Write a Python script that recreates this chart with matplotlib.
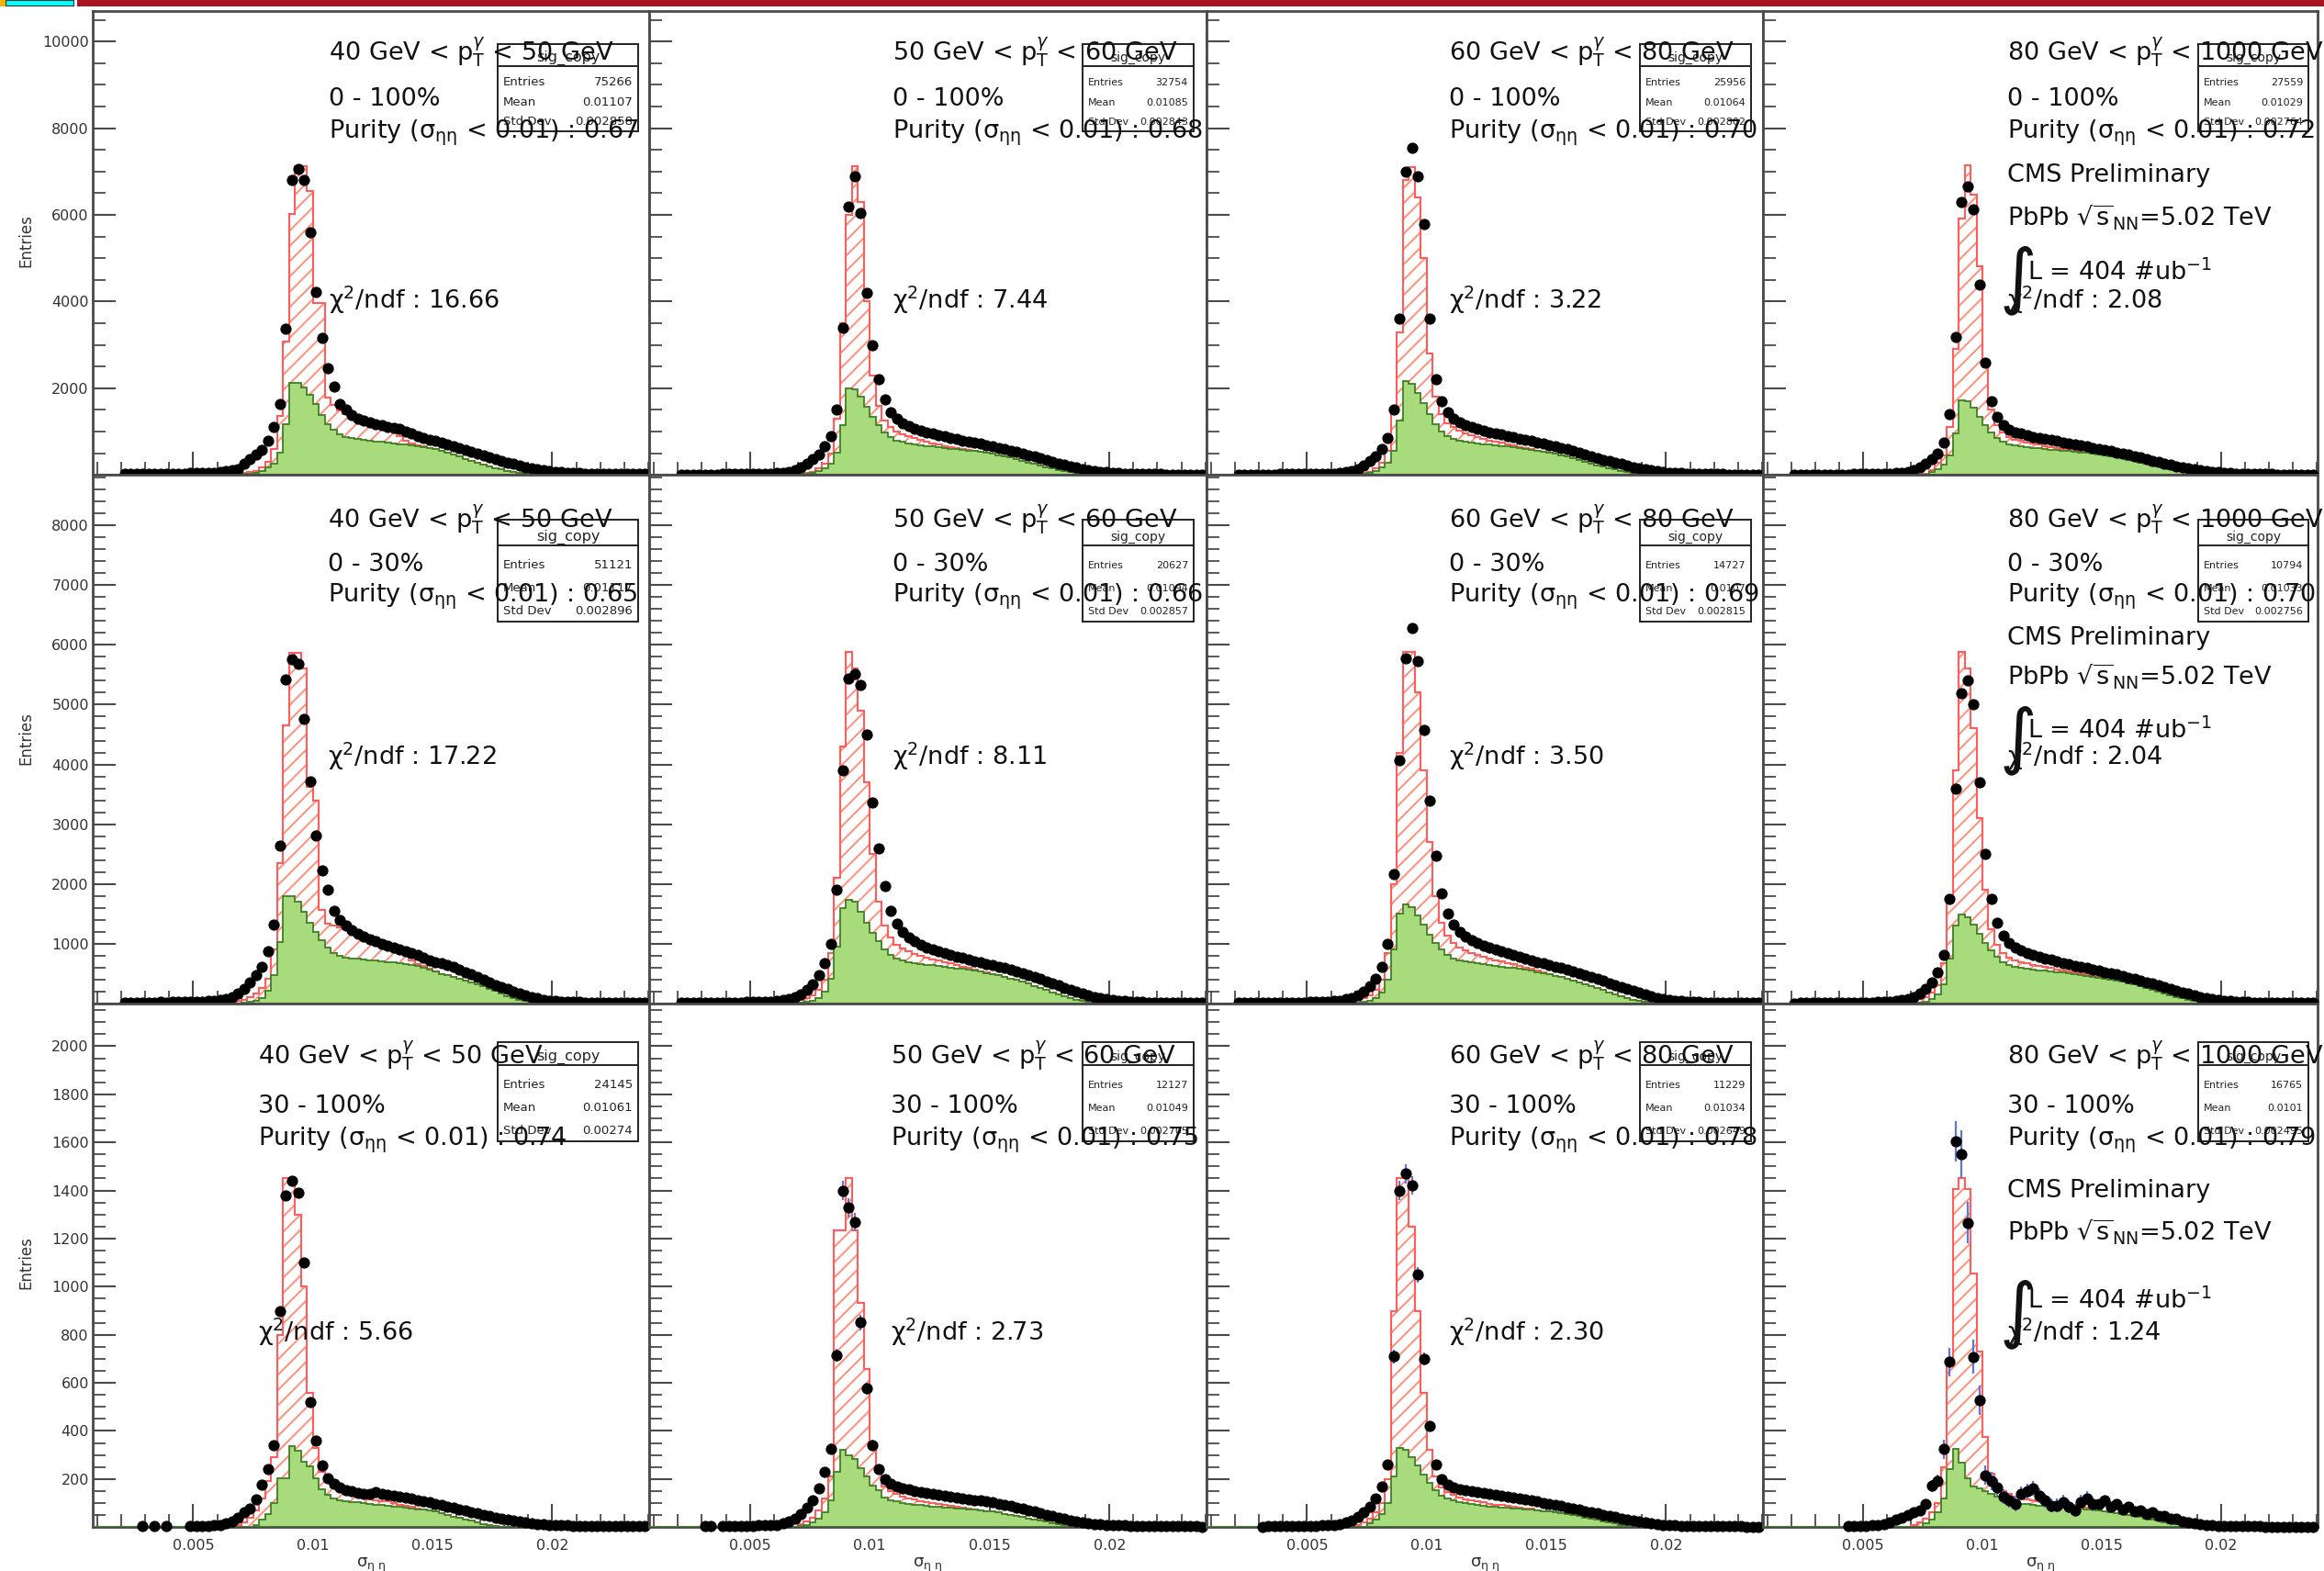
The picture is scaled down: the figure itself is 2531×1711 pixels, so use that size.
import numpy as np
import matplotlib
matplotlib.use("Agg")
import matplotlib.pyplot as plt
from matplotlib.patches import Rectangle
from matplotlib.lines import Line2D
from matplotlib.ticker import FixedLocator, MultipleLocator, NullFormatter

plt.rcParams['font.family'] = ['DejaVu Sans']
plt.rcParams['mathtext.fontset'] = 'dejavusans'
plt.rcParams['hatch.linewidth'] = 1.4
plt.rcParams['hatch.color'] = '#ff8f78'

W, H = 2531, 1711
fig = plt.figure(figsize=(W / 100, H / 100), dpi=100)

def fx(px):
    return px / W

def fy(py):
    return 1 - py / H

# ---------------- binning ----------------
edges = np.round(np.arange(0.001, 0.024001, 0.00025), 6)   # 92 bins of sigma_ietaieta
centers = 0.5 * (edges[:-1] + edges[1:])
NB = len(centers)

def pad(start, vals):
    out = [0] * start + list(vals)
    if len(out) > NB:
        raise ValueError('too many values')
    return out + [0] * (NB - len(out))

# ---------------- values (per panel) ----------------
# data = black points, bkg = green background template, sig = red hatched signal template (stacked on bkg)
data_r1c1 = pad(4, [20, 25, 22, 28, 25, 30, 28, 32, 30, 35, 38, 40, 42, 45, 50, 55,
                    70, 90, 110, 144, 250, 366, 470, 578, 790, 1108,
                    1648, 3375, 6800, 7060, 6800, 5589, 4227, 3153, 2472, 2040, 1648,
                    1500, 1390, 1298, 1250, 1210, 1170, 1140, 1110, 1090, 1076,
                    1010, 950, 900, 860, 820, 780, 740, 700, 660, 620,
                    578, 535, 495, 455, 415, 375, 330, 288, 250, 210,
                    175, 145, 125, 112, 90, 75, 62, 52, 45, 40,
                    38, 36, 32, 30, 28, 28, 26, 25, 24, 24, 22])
bkg_r1c1 = pad(21, [5, 10, 20, 20, 30, 45, 90, 170, 260,
                    515, 1178, 2131, 2131, 2025, 1850, 1638, 1390, 1178, 1038, 932,
                    880, 850, 830, 810, 790, 775, 760, 745, 730, 715,
                    700, 685, 670, 650, 625, 590, 550, 510, 470, 425,
                    375, 325, 275, 230, 190, 155, 125, 100, 75, 50, 30, 15, 5])
sig_r1c1 = pad(22, [5, 10, 30, 40, 55, 80, 130, 340,
                    845, 1902, 3882, 4994, 5100, 4703, 2339, 2587, 614, 582, 548,
                    520, 480, 440, 410, 390, 365, 340, 305, 270, 185, 100, 35, 10, 5])

data_r1c2 = pad(4, [10, 12, 12, 14, 14, 15, 16, 18, 18, 20, 22, 24, 26, 28, 31, 35,
                    40, 55, 75, 110, 170, 260, 360, 480, 660, 900,
                    1500, 3400, 6200, 6900, 6050, 4200, 3000, 2200, 1750, 1450, 1300,
                    1200, 1130, 1070, 1020, 980, 950, 920, 890, 860, 830,
                    800, 775, 750, 720, 690, 660, 630, 600, 565, 530,
                    495, 460, 420, 385, 345, 305, 270, 235, 200, 170,
                    140, 115, 95, 78, 62, 50, 42, 35, 30, 26,
                    24, 20, 18, 17, 15, 14, 13, 12, 12, 11, 10])
bkg_r1c2 = pad(24, [15, 25, 45, 90, 150, 260,
                    520, 1150, 2000, 1980, 1800, 1580, 1350, 1150, 980, 870, 800,
                    760, 730, 710, 690, 670, 655, 640, 625, 610, 595,
                    580, 565, 548, 530, 510, 485, 460, 430, 400, 365,
                    330, 290, 250, 215, 180, 150, 120, 95, 70, 48, 30, 15, 5])
sig_r1c2 = pad(24, [15, 20, 35, 60, 110, 240,
                    780, 2350, 4000, 5150, 4500, 2420, 950, 450, 270, 230, 200,
                    180, 160, 140, 120, 100, 80, 60, 45, 30, 18, 10, 5])

data_r1c3 = pad(4, [10, 11, 12, 13, 14, 15, 16, 17, 18, 19, 20, 22, 24, 26, 28, 31,
                    35, 45, 60, 90, 140, 220, 320, 430, 600, 850,
                    1500, 3600, 7000, 7540, 6900, 5800, 3600, 2200, 1700, 1450, 1300,
                    1220, 1160, 1110, 1060, 1020, 990, 960, 930, 900, 870,
                    840, 810, 780, 750, 720, 690, 660, 625, 590, 555,
                    515, 475, 435, 395, 355, 320, 285, 250, 215, 180,
                    150, 125, 105, 85, 70, 58, 48, 40, 34, 30,
                    27, 24, 21, 19, 17, 16, 15, 14, 13, 12, 12])
bkg_r1c3 = pad(24, [15, 25, 45, 90, 170, 290,
                    560, 1250, 2170, 2100, 1900, 1650, 1400, 1180, 1000, 900, 840,
                    800, 775, 755, 735, 715, 700, 685, 670, 655, 640,
                    625, 605, 585, 565, 540, 515, 485, 455, 420, 385,
                    345, 305, 265, 225, 190, 155, 125, 100, 75, 50, 30, 15, 5])
sig_r1c3 = pad(24, [10, 20, 35, 60, 120, 260,
                    840, 2050, 4630, 5000, 4500, 3350, 1400, 620, 400, 300, 260,
                    220, 185, 155, 135, 115, 100, 85, 70, 55, 40, 25, 15, 10])

data_r1c4 = pad(4, [8, 10, 10, 11, 12, 12, 13, 14, 15, 16, 17, 19, 21, 23, 26, 28,
                    30, 40, 55, 80, 120, 180, 260, 360, 500, 750,
                    1400, 3191, 6299, 6665, 6123, 4392, 2600, 1700, 1350, 1150, 1050,
                    990, 950, 910, 880, 855, 830, 805, 780, 755, 730,
                    705, 680, 655, 630, 605, 580, 555, 525, 495, 465,
                    435, 400, 365, 330, 295, 265, 235, 205, 178, 152,
                    128, 108, 90, 75, 62, 52, 44, 37, 32, 28,
                    25, 22, 20, 18, 16, 15, 14, 13, 12, 12, 11])
bkg_r1c4 = pad(27, [70, 130, 230,
                    450, 950, 1720, 1700, 1550, 1350, 1150, 980, 850, 760, 710,
                    680, 660, 645, 630, 615, 600, 588, 575, 562, 548,
                    535, 520, 505, 488, 470, 450, 428, 405, 380, 352,
                    322, 290, 258, 225, 193, 162, 133, 106, 82, 60, 40, 24, 12, 4])
sig_r1c4 = pad(24, [10, 15, 25, 50, 150, 220,
                    650, 1950, 4197, 5446, 4925, 3466, 1350, 520, 300, 220, 170,
                    140, 120, 105, 90, 80, 70, 60, 50, 38, 30, 20, 10, 5])

data_r2c1 = pad(4, [15, 18, 20, 18, 22, 20, 25, 22, 25, 28, 30, 32, 35, 38, 42, 48,
                    60, 80, 115, 170, 250, 355, 470, 617, 882, 1325,
                    2637, 5428, 5757, 5680, 4755, 3720, 2812, 2225, 1900, 1550, 1400,
                    1300, 1230, 1170, 1117, 1080, 1040, 1000, 970, 940, 910,
                    882, 850, 810, 763, 730, 700, 672, 648, 610, 570,
                    530, 490, 445, 400, 355, 315, 275, 240, 205, 170,
                    135, 105, 86, 68, 54, 44, 37, 32, 28, 25,
                    23, 21, 19, 18, 17, 16, 15, 14, 13, 13, 12])
bkg_r2c1 = pad(24, [15, 25, 40, 100, 220, 480,
                    1032, 1794, 1794, 1710, 1530, 1355, 1205, 1062, 940, 852, 800,
                    770, 760, 750, 740, 730, 720, 712, 700, 690, 675,
                    660, 645, 625, 600, 570, 535, 500, 470, 440, 410,
                    380, 350, 320, 290, 250, 210, 165, 120, 90, 65, 40, 20, 8])
sig_r2c1 = pad(22, [30, 45, 55, 85, 130, 160, 200, 420,
                    1324, 2856, 4076, 4160, 4073, 2265, 2195, 508, 402, 448, 470,
                    470, 450, 420, 380, 350, 320, 288, 260, 230, 195,
                    140, 75, 35, 25, 10, 5])

data_r2c2 = pad(4, [12, 14, 15, 15, 17, 16, 18, 20, 20, 22, 24, 26, 28, 30, 34, 38,
                    45, 60, 80, 110, 160, 230, 330, 470, 680, 1000,
                    1900, 3900, 5430, 5510, 5330, 4500, 3370, 2600, 1960, 1550, 1330,
                    1200, 1110, 1040, 980, 940, 905, 875, 845, 815, 790,
                    765, 740, 715, 690, 668, 645, 620, 595, 568, 540,
                    510, 478, 445, 410, 375, 340, 305, 270, 235, 200,
                    168, 140, 115, 92, 74, 60, 48, 40, 34, 30,
                    26, 23, 21, 19, 17, 16, 15, 14, 13, 12, 12])
bkg_r2c2 = pad(24, [15, 25, 45, 95, 200, 420,
                    950, 1600, 1740, 1700, 1540, 1360, 1190, 1040, 910, 820, 760,
                    725, 700, 682, 666, 652, 640, 628, 616, 604, 592,
                    579, 565, 550, 533, 514, 494, 472, 448, 422, 394,
                    364, 332, 298, 263, 228, 193, 160, 128, 98, 70, 46, 26, 12, 4])
sig_r2c2 = pad(22, [25, 40, 45, 65, 95, 135, 200, 430,
                    1150, 2700, 4140, 3900, 3360, 2340, 1310, 660, 390, 280, 230,
                    195, 170, 148, 134, 118, 105, 92, 79, 66, 53,
                    41, 30, 20, 10, 5])

data_r2c3 = pad(4, [10, 12, 12, 14, 14, 15, 16, 17, 18, 20, 22, 24, 26, 28, 31, 35,
                    42, 55, 75, 100, 140, 200, 290, 420, 620, 1000,
                    2160, 4070, 5780, 6280, 5730, 4570, 3400, 2480, 1840, 1500, 1320,
                    1200, 1120, 1060, 1010, 970, 935, 900, 870, 840, 810,
                    780, 752, 725, 698, 672, 648, 622, 596, 568, 540,
                    510, 478, 445, 412, 378, 345, 312, 278, 245, 212,
                    180, 150, 123, 100, 80, 64, 52, 43, 36, 31,
                    27, 24, 21, 19, 17, 16, 15, 14, 13, 12, 12])
bkg_r2c3 = pad(24, [15, 25, 45, 95, 190, 400,
                    900, 1500, 1660, 1620, 1480, 1320, 1160, 1020, 900, 815, 760,
                    728, 705, 688, 672, 658, 645, 632, 620, 607, 594,
                    580, 565, 549, 531, 512, 491, 469, 445, 419, 391,
                    361, 329, 295, 260, 225, 190, 157, 126, 96, 69, 45, 25, 11, 3])
sig_r2c3 = pad(22, [25, 40, 45, 65, 95, 135, 210, 450,
                    1100, 2700, 4220, 4260, 3720, 2580, 1540, 780, 450, 315, 250,
                    212, 185, 162, 143, 127, 112, 98, 85, 73, 61,
                    50, 40, 31, 20, 10, 4])

data_r2c4 = pad(4, [8, 10, 10, 11, 12, 12, 13, 14, 15, 16, 17, 19, 21, 23, 26, 30,
                    36, 46, 60, 82, 115, 165, 240, 350, 520, 820,
                    1750, 3600, 5190, 5400, 5000, 3700, 2500, 1750, 1350, 1130, 1010,
                    940, 890, 850, 815, 785, 758, 732, 707, 683, 660,
                    637, 615, 593, 572, 551, 530, 508, 486, 463, 439,
                    414, 388, 361, 333, 304, 275, 246, 218, 190, 163,
                    138, 115, 95, 78, 63, 51, 42, 35, 30, 26,
                    23, 20, 18, 16, 15, 14, 13, 12, 11, 11, 10])
bkg_r2c4 = pad(24, [12, 20, 36, 75, 150, 320,
                    750, 1300, 1490, 1450, 1320, 1170, 1020, 890, 780, 700, 650,
                    620, 600, 585, 572, 560, 549, 538, 527, 516, 505,
                    493, 481, 468, 454, 439, 423, 406, 387, 367, 345,
                    321, 295, 267, 237, 206, 175, 145, 116, 89, 64, 42, 24, 11, 3])
sig_r2c4 = pad(22, [20, 32, 36, 52, 74, 105, 160, 360,
                    950, 2600, 4390, 4150, 3280, 1930, 880, 360, 200, 150, 125,
                    110, 98, 87, 78, 70, 62, 55, 48, 41, 35,
                    30, 25, 20, 12, 6])

data_r3c1 = pad(7, [3, 0, 3, 0, 3, 0, 0, 0, 4, 5, 5, 6, 8,
                    10, 15, 25, 39, 60, 77, 115, 175, 241, 340,
                    900, 1380, 1440, 1390, 1100, 520, 360, 255, 203, 180, 165,
                    155, 148, 142, 140, 139, 146, 137, 133, 130, 127,
                    123, 118, 113, 108, 103, 98, 92, 86, 80, 75,
                    69, 63, 57, 51, 45, 40, 35, 30, 26, 22,
                    18, 15, 13, 12, 10, 9, 8, 7, 6, 6,
                    5, 5, 5, 4, 4, 4, 4, 3, 3, 3, 3])
bkg_r3c1 = pad(26, [10, 30, 55, 100,
                    203, 203, 337, 318, 273, 254, 203, 158, 134, 120, 112,
                    108, 104, 102, 100, 97, 94, 91, 89, 86, 84,
                    81, 78, 75, 72, 70, 64, 57, 50, 44, 38,
                    32, 26, 20, 14, 9, 5, 2])
sig_r3c1 = pad(22, [5, 8, 20, 40, 60, 90, 135, 190,
                    597, 1249, 1115, 982, 727, 306, 127, 72, 56, 45, 38,
                    32, 29, 25, 22, 20, 19, 18, 18, 15, 10,
                    8, 6, 4, 3])

data_r3c2 = pad(8, [3, 3, 0, 4, 3, 4, 5, 5, 6, 7, 8, 9,
                    10, 15, 22, 35, 55, 80, 110, 160, 230, 327,
                    715, 1400, 1328, 1270, 851, 576, 342, 240, 200, 180, 170,
                    162, 156, 150, 146, 142, 138, 135, 131, 127, 124,
                    120, 117, 113, 110, 106, 102, 97, 92, 87, 82,
                    76, 70, 64, 58, 52, 46, 40, 34, 29, 24,
                    20, 17, 14, 12, 10, 9, 8, 7, 6, 6,
                    5, 5, 4, 4, 4, 3, 3, 3, 3, 3, 2])
bkg_r3c2 = pad(24, [5, 10, 18, 35, 60, 110,
                    230, 320, 300, 283, 247, 211, 174, 152, 123, 113, 106,
                    101, 97, 94, 91, 88, 86, 84, 82, 80, 78,
                    76, 74, 72, 70, 67, 64, 60, 56, 52, 47,
                    42, 37, 32, 27, 22, 17, 12, 8, 5, 2])
sig_r3c2 = pad(24, [7, 12, 20, 35, 60, 100,
                    1004, 914, 1153, 951, 687, 447, 168, 78, 47, 37, 32,
                    27, 23, 20, 17, 15, 13, 11, 9, 7, 5, 4, 3, 2])
err_r3c2 = pad(28, [15, 20, 28, 40, 40, 38, 32, 26, 20, 16])

data_r3c3 = pad(8, [2, 3, 3, 3, 4, 4, 5, 5, 6, 6, 7, 7,
                    8, 12, 18, 28, 42, 60, 85, 120, 170, 260,
                    710, 1400, 1470, 1420, 1050, 700, 420, 260, 200, 175, 165,
                    158, 153, 150, 146, 142, 138, 134, 130, 126, 122,
                    118, 114, 110, 106, 101, 97, 92, 87, 82, 77,
                    72, 67, 62, 57, 52, 47, 42, 37, 32, 27,
                    22, 18, 15, 12, 10, 8, 7, 6, 5, 5,
                    4, 4, 4, 3, 3, 3, 3, 3, 2, 2, 2])
bkg_r3c3 = pad(26, [15, 30, 55, 100,
                    210, 330, 320, 290, 255, 220, 185, 155, 130, 118, 110,
                    104, 99, 95, 92, 89, 86, 84, 82, 80, 78,
                    76, 74, 72, 70, 67, 64, 61, 57, 53, 49,
                    45, 40, 35, 30, 25, 20, 15, 10, 6, 3])
sig_r3c3 = pad(24, [10, 20, 20, 30, 45, 100,
                    690, 1122, 1132, 960, 645, 340, 135, 55, 35, 27, 23,
                    20, 18, 16, 14, 13, 12, 10, 9, 8, 7, 6, 5, 4])
err_r3c3 = pad(28, [14, 18, 28, 40, 40, 38, 32, 26, 20, 16])

data_r3c4 = pad(13, [3, 4, 5, 6, 8, 10, 12,
                     18, 31, 40, 52, 63, 70, 95, 171, 192, 324,
                     687, 1604, 1550, 1266, 709, 528, 216, 190, 165, 127, 110,
                     95, 140, 150, 160, 130, 110, 90, 90, 105, 85,
                     70, 105, 120, 95, 95, 110, 85, 95, 75, 85,
                     65, 70, 55, 60, 45, 45, 35, 35, 25, 20,
                     15, 12, 10, 8, 6, 5, 5, 4, 4, 3,
                     3, 3, 2, 2, 2, 2, 2, 2, 2, 2, 2])
bkg_r3c4 = pad(26, [15, 30, 60, 120,
                    241, 324, 267, 203, 170, 160, 150, 140, 125, 115, 108,
                    102, 98, 95, 92, 90, 88, 86, 84, 82, 80,
                    78, 76, 74, 72, 69, 66, 63, 59, 55, 51,
                    46, 41, 36, 31, 26, 21, 16, 11, 7, 3])
sig_r3c4 = pad(24, [10, 20, 20, 30, 41, 130,
                    459, 1082, 1184, 1203, 886, 571, 225, 82, 50, 35, 30,
                    26, 23, 20, 18, 16, 14, 13, 12, 11, 10, 9, 8, 7])
err_r3c4 = pad(27, [25, 28, 40, 60, 85, 100, 85, 70, 60, 40, 38, 35, 32, 30,
                    30, 30, 30, 30, 30, 30, 28, 28, 28, 28, 28, 28, 28, 28])

panels = {
    (0, 0): (data_r1c1, bkg_r1c1, sig_r1c1, None),
    (0, 1): (data_r1c2, bkg_r1c2, sig_r1c2, None),
    (0, 2): (data_r1c3, bkg_r1c3, sig_r1c3, None),
    (0, 3): (data_r1c4, bkg_r1c4, sig_r1c4, None),
    (1, 0): (data_r2c1, bkg_r2c1, sig_r2c1, None),
    (1, 1): (data_r2c2, bkg_r2c2, sig_r2c2, None),
    (1, 2): (data_r2c3, bkg_r2c3, sig_r2c3, None),
    (1, 3): (data_r2c4, bkg_r2c4, sig_r2c4, None),
    (2, 0): (data_r3c1, bkg_r3c1, sig_r3c1, None),
    (2, 1): (data_r3c2, bkg_r3c2, sig_r3c2, err_r3c2),
    (2, 2): (data_r3c3, bkg_r3c3, sig_r3c3, err_r3c3),
    (2, 3): (data_r3c4, bkg_r3c4, sig_r3c4, err_r3c4),
}

ptbins = [('40', '50'), ('50', '60'), ('60', '80'), ('80', '1000')]
cent = ['0 - 100%', '0 - 30%', '30 - 100%']
purity = [['0.67', '0.68', '0.70', '0.72'], ['0.65', '0.66', '0.69', '0.70'], ['0.74', '0.75', '0.78', '0.79']]
chi2 = [['16.66', '7.44', '3.22', '2.08'], ['17.22', '8.11', '3.50', '2.04'], ['5.66', '2.73', '2.30', '1.24']]
entries = [['75266', '32754', '25956', '27559'], ['51121', '20627', '14727', '10794'], ['24145', '12127', '11229', '16765']]
means = [['0.01107', '0.01085', '0.01064', '0.01029'], ['0.01117', '0.01094', '0.0107', '0.01033'],
         ['0.01061', '0.01049', '0.01034', '0.0101']]
stds = [['0.002858', '0.002843', '0.002802', '0.002764'], ['0.002896', '0.002857', '0.002815', '0.002756'],
        ['0.00274', '0.002705', '0.002649', '0.002495']]

ytick_major = [[2000, 4000, 6000, 8000, 10000], [1000, 2000, 3000, 4000, 5000, 6000, 7000, 8000],
               [200, 400, 600, 800, 1000, 1200, 1400, 1600, 1800, 2000]]
ytick_minor = [500, 200, 50]
ymax = [10705, 8840, 2177]
xticks = [0.005, 0.01, 0.015, 0.02]
xtick_labels = ['0.005', '0.01', '0.015', '0.02']

# ---------------- layout (pixels) ----------------
col_left = [101, 707, 1314, 1920]
col_right = [707, 1314, 1920, 2524]
row_top = [12, 517.3, 1093.1]
row_bot = [517.3, 1093.1, 1663.2]
XMIN, XMAX = 0.0008, 0.02405

GREEN_FILL = '#a8db7c'
GREEN_EDGE = '#3f7f25'
RED_EDGE = '#ff5c5c'
HATCH_COL = '#ff8f78'
ERR_COL = '#5a78d8'
AXCOL = '#4a4a4a'

text_x = [[358, 972, 1578, 2186], [357, 972, 1578, 2186], [281, 970, 1578, 2186]]
base_y = [dict(l1=66.5, l2=115, l3=150.5, cms=198, pbpb=246.7, lum=305, chi=336, integ=326),
          dict(l1=574.6, l2=621.7, l3=655, cms=702, pbpb=747, lum=804, chi=833, integ=827),
          dict(l1=1159, l2=1212, l3=1248, cms=1304, pbpb=1351, lum=1425, chi=1460, integ=1452)]
box_y = [(48, 72, 143), (566, 594, 677), (1135, 1160, 1243)]
box_x = [(542, 695), (1179, 1300), (1786, 1907), (2394, 2514)]
FS = 19.5

for r in range(3):
    for c in range(4):
        l, rr = col_left[c], col_right[c]
        t, b = row_top[r], row_bot[r]
        ax = fig.add_axes([fx(l), fy(b), (rr - l) / W, (b - t) / H])
        d_list, b_list, s_list, e_list = panels[(r, c)]
        dat = np.array(d_list, float)
        bkg = np.array(b_list, float)
        sig = np.array(s_list, float)
        tot = bkg + sig
        ax.stairs(tot, edges, baseline=0, fill=True, facecolor='none', edgecolor=HATCH_COL,
                  hatch='//', linewidth=0, zorder=1)
        ax.stairs(tot, edges, baseline=0, fill=False, color=RED_EDGE, linewidth=1.5, zorder=2)
        ax.stairs(bkg, edges, baseline=0, fill=True, facecolor=GREEN_FILL, edgecolor=GREEN_EDGE,
                  linewidth=1.3, zorder=3)
        ax.axhline(0, color=GREEN_EDGE, lw=1.5, zorder=3)
        m = dat > 0
        if e_list is not None:
            err = np.array(e_list, float)
            me = m & (err > 0)
            ax.errorbar(centers[me], dat[me], yerr=err[me], fmt='none', ecolor=ERR_COL,
                        elinewidth=1.6, capsize=0, zorder=4)
        ax.plot(centers[m], dat[m], 'o', color='black', ms=7.8, zorder=5, clip_on=False)

        ax.set_xlim(XMIN, XMAX)
        ax.set_ylim(0, ymax[r])
        ax.yaxis.set_major_locator(FixedLocator(ytick_major[r]))
        ax.yaxis.set_minor_locator(MultipleLocator(ytick_minor[r]))
        ax.xaxis.set_major_locator(FixedLocator(xticks))
        ax.xaxis.set_minor_locator(MultipleLocator(0.001))
        ax.tick_params(which='both', direction='in', colors=AXCOL, top=False, right=False)
        ax.tick_params(which='major', length=18, width=1.5)
        ax.tick_params(which='minor', length=10, width=1.3)
        ax.tick_params(axis='y', labelsize=11.5, pad=3, labelcolor='#333333')
        ax.tick_params(axis='x', labelsize=11.5, pad=9, labelcolor='#333333')
        if c == 0:
            ax.set_yticklabels([str(v) for v in ytick_major[r]])
        else:
            ax.yaxis.set_major_formatter(NullFormatter())
        if r == 2:
            ax.set_xticklabels(xtick_labels)
        else:
            ax.xaxis.set_major_formatter(NullFormatter())
        for sp in ax.spines.values():
            sp.set_color(AXCOL)
            sp.set_linewidth(2)

        # stats box
        bx0, bx1 = box_x[c]
        by0, bsep, by1 = box_y[r]
        fig.add_artist(Rectangle((fx(bx0), fy(by1)), (bx1 - bx0) / W, (by1 - by0) / H,
                                 transform=fig.transFigure, facecolor='white', edgecolor='#222222',
                                 lw=1.4, zorder=6))
        fig.add_artist(Line2D([fx(bx0), fx(bx1)], [fy(bsep), fy(bsep)], transform=fig.transFigure,
                              color='#222222', lw=1.4, zorder=6))
        sfs = 9.5 if c == 0 else 8.0
        fig.text(fx((bx0 + bx1) / 2), fy(bsep - 5), 'sig_copy', ha='center', va='baseline',
                 fontsize=sfs + 2, color='#222222', zorder=7)
        h = by1 - bsep
        for i, (lab, val) in enumerate([('Entries', entries[r][c]), ('Mean', means[r][c]),
                                        ('Std Dev', stds[r][c])]):
            yy = bsep + h * (0.3 + 0.3 * i)
            fig.text(fx(bx0 + 6), fy(yy), lab, ha='left', va='baseline', fontsize=sfs,
                     color='#222222', zorder=7)
            fig.text(fx(bx1 - 6), fy(yy), val, ha='right', va='baseline', fontsize=sfs,
                     color='#222222', zorder=7)

        # panel text
        tx = text_x[r][c]
        by = base_y[r]
        lo, hi = ptbins[c]
        fig.text(fx(tx), fy(by['l1']), lo + r' GeV < p$_{\mathregular{T}}^{\gamma}$ < ' + hi + ' GeV',
                 fontsize=FS, va='baseline', color='#111111', zorder=8)
        fig.text(fx(tx), fy(by['l2']), cent[r], fontsize=FS, va='baseline', color='#111111', zorder=8)
        fig.text(fx(tx), fy(by['l3']),
                 r'Purity ($\mathregular{\sigma_{\eta\eta}}$ < 0.01) : ' + purity[r][c],
                 fontsize=FS, va='baseline', color='#111111', zorder=8)
        fig.text(fx(tx), fy(by['chi']), r'$\mathregular{\chi^{2}}$/ndf : ' + chi2[r][c],
                 fontsize=FS, va='baseline', color='#111111', zorder=8)
        if c == 3:
            fig.text(fx(tx), fy(by['cms']), 'CMS Preliminary', fontsize=FS, va='baseline',
                     color='#111111', zorder=8)
            fig.text(fx(tx), fy(by['pbpb']), r'PbPb $\sqrt{\mathregular{s}}_{\mathregular{NN}}$=5.02 TeV',
                     fontsize=FS, va='baseline', color='#111111', zorder=8)
            fig.text(fx(tx + 12), fy(by['integ']), '\u222b', fontsize=56, ha='center', va='baseline',
                     color='#111111', zorder=8)
            fig.text(fx(tx + 22), fy(by['lum']), r'L = 404 #ub$^{\mathregular{-1}}$', fontsize=FS,
                     va='baseline', color='#111111', zorder=8)

# axis titles
for r, yc in enumerate([262, 804, 1375]):
    fig.text(fx(28.7), fy(yc), 'Entries', rotation=90, ha='center', va='center', fontsize=12,
             color='#333333')
for c in range(4):
    xc = (col_left[c] + col_right[c]) / 2
    fig.text(fx(xc), fy(1707), r'$\mathregular{\sigma_{\eta\ \eta}}$', ha='center', va='baseline',
             fontsize=13, color='#333333')

# window chrome strip at the top
fig.add_artist(Rectangle((fx(84), fy(7)), (W - 84) / W, 7 / H, transform=fig.transFigure,
                         facecolor='#a8141f', edgecolor='none', zorder=9))
fig.add_artist(Rectangle((fx(6), fy(6)), 74 / W, 6 / H, transform=fig.transFigure,
                         facecolor='#00ffff', edgecolor='#333333', lw=0.8, zorder=9))
fig.add_artist(Rectangle((0, fy(7)), 6 / W, 7 / H, transform=fig.transFigure,
                         facecolor='#f2b400', edgecolor='none', zorder=9))

fig.savefig('out.png', dpi=100)
